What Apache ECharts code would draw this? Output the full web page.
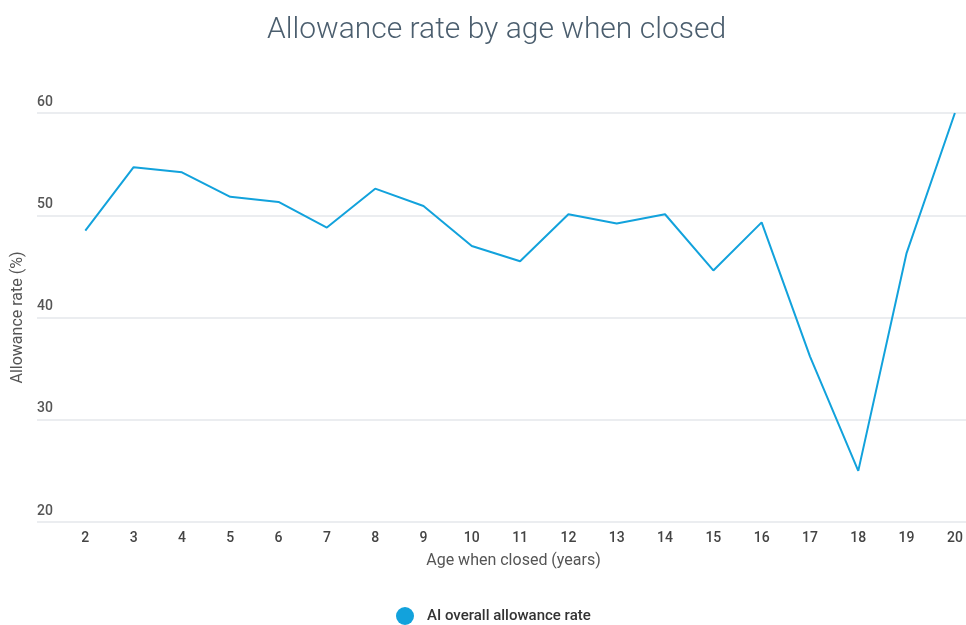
<!DOCTYPE html>
<html>
<head>
<meta charset="utf-8">
<script src="https://cdn.jsdelivr.net/npm/echarts@6/dist/echarts.min.js"></script>
<style>
  html, body { margin: 0; padding: 0; background: #fff; }
  #chart { width: 966px; height: 625px; }
</style>
</head>
<body>
<div id="chart"></div>
<script>
// Age at closure (years) and the overall allowance rate (%) at each age
const ages = [2, 3, 4, 5, 6, 7, 8, 9, 10, 11, 12, 13, 14, 15, 16, 17, 18, 19, 20];
const allowanceRate = [48.5, 54.7, 54.2, 51.8, 51.3, 48.8, 52.6, 50.9, 47.0, 45.5,
                       50.1, 49.2, 50.1, 44.6, 49.3, 36.2, 25.0, 46.3, 60.0];
const yTicks = [20, 30, 40, 50, 60];
const seriesName = 'AI overall allowance rate';

const points = ages.map((a, i) => [a, allowanceRate[i]]);

const chart = echarts.init(document.getElementById('chart'));
chart.setOption({
  animation: false,
  title: {
    text: 'Allowance rate by age when closed',
    left: 262,
    top: 10,
    textStyle: {
      fontFamily: 'Roboto',
      fontWeight: 300,
      fontSize: 30,
      color: '#4b5e6e'
    }
  },
  grid: { left: 37, right: 0, top: 113, bottom: 103 },
  xAxis: {
    type: 'value',
    min: 1,
    max: 20.23,
    interval: 1,
    name: 'Age when closed (years)',
    nameLocation: 'middle',
    nameGap: 31,
    nameTextStyle: { fontFamily: 'Roboto', fontSize: 16, color: '#555', padding: [0, 0, 0, 24] },
    axisLine: { show: false },
    axisTick: { show: false },
    splitLine: { show: false },
    axisLabel: {
      margin: 9,
      fontFamily: 'Roboto',
      fontSize: 14,
      fontWeight: 500,
      color: '#444',
      showMaxLabel: false,
      formatter: v => (v >= ages[0] && v <= ages[ages.length - 1]) ? String(v) : ''
    }
  },
  yAxis: {
    type: 'value',
    min: yTicks[0],
    max: yTicks[yTicks.length - 1],
    interval: 10,
    name: 'Allowance rate (%)',
    nameLocation: 'middle',
    nameGap: 4,
    nameRotate: 90,
    nameTextStyle: { fontFamily: 'Roboto', fontSize: 16, color: '#555' },
    axisLine: { show: false },
    axisTick: { show: false },
    axisLabel: {
      inside: true,
      margin: 0,
      verticalAlign: 'bottom',
      padding: [0, 0, 4, 0],
      fontFamily: 'Roboto',
      fontSize: 14,
      fontWeight: 500,
      color: '#555'
    },
    splitLine: { lineStyle: { color: '#e4e7eb', width: 1.5 } }
  },
  legend: {
    bottom: 0,
    left: 396,
    padding: 0,
    icon: 'circle',
    itemWidth: 18,
    itemHeight: 18,
    textStyle: { fontFamily: 'Roboto', fontSize: 15, fontWeight: 500, color: '#333', padding: [0, 0, 0, 8] },
    data: [seriesName]
  },
  series: [{
    name: seriesName,
    type: 'line',
    data: points,
    showSymbol: false,
    symbol: 'circle',
    color: '#12a2dc',
    lineStyle: { width: 2, color: '#12a2dc' }
  }]
});
</script>
</body>
</html>
